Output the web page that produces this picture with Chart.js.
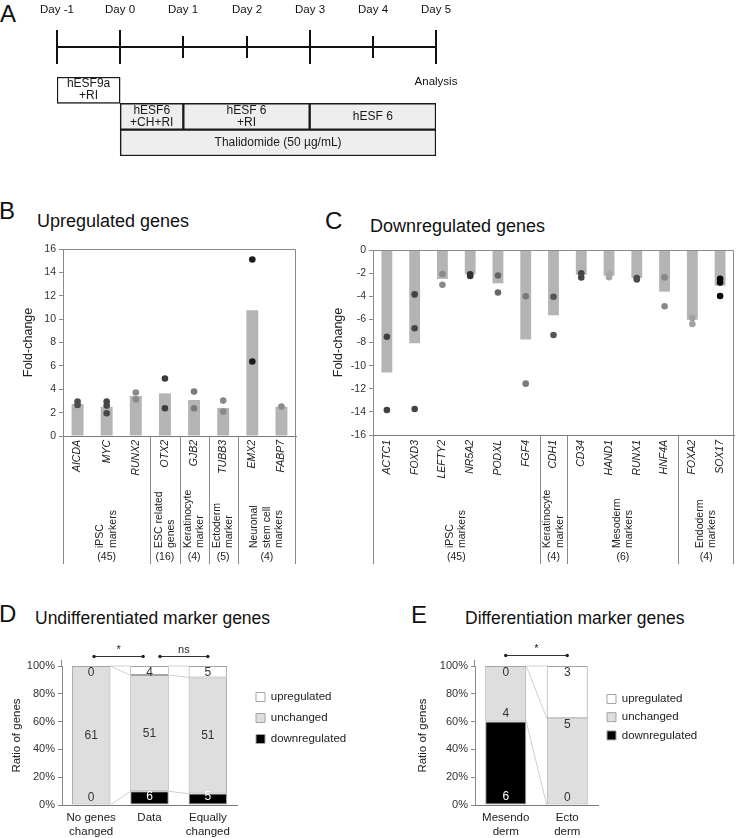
<!DOCTYPE html>
<html>
<head>
<meta charset="utf-8">
<title>Thalidomide exposure: gene expression changes</title>
<script src="https://cdn.jsdelivr.net/npm/chart.js"></script>
<style>
  html, body { margin:0; padding:0; background:#fff; }
  body { position:relative; width:738px; height:838px; overflow:hidden; font-family:'Liberation Sans', Arial, sans-serif; color:#111; }
  canvas { position:absolute; display:block; }
  .t { position:absolute; line-height:1; white-space:nowrap; margin:0; font-weight:normal; }
  .letter { font-size:24px; }
  .title { font-size:18px; }
</style>
</head>
<body>
<div class="t letter" style="left:0px;top:2px">A</div>
<div class="t letter" style="left:-1px;top:199px">B</div>
<div class="t title" style="left:37px;top:212px">Upregulated genes</div>
<div class="t letter" style="left:325px;top:209px">C</div>
<div class="t title" style="left:370px;top:217px">Downregulated genes</div>
<div class="t letter" style="left:-1px;top:602px">D</div>
<div class="t title" style="left:35px;top:610px;font-size:17.5px">Undifferentiated marker genes</div>
<div class="t letter" style="left:411px;top:603px">E</div>
<div class="t title" style="left:465px;top:610px;font-size:17.5px">Differentiation marker genes</div>

<canvas id="chartA" width="470" height="170" style="left:0;top:0"></canvas>
<canvas id="chartB" width="310" height="390" style="left:0;top:190px"></canvas>
<canvas id="chartC" width="428" height="390" style="left:310px;top:190px"></canvas>
<canvas id="chartD" width="370" height="258" style="left:0;top:580px"></canvas>
<canvas id="chartE" width="368" height="258" style="left:370px;top:580px"></canvas>

<script>
// ================= DATA =================
// Panel A: protocol timeline
const dayValues = [-1, 0, 1, 2, 3, 4, 5];
const dayLabels = ['Day -1', 'Day 0', 'Day 1', 'Day 2', 'Day 3', 'Day 4', 'Day 5'];
const majorDays = [-1, 0, 3, 5];
const stepRows = ['preculture', 'medium', 'drug'];
const stepNames = [['hESF9a', '+RI'], ['hESF6', '+CH+RI'], ['hESF 6', '+RI'], ['hESF 6'], ['Thalidomide (50 µg/mL)']];
const stepStart = [-1, 0, 1, 3, 0];
const stepEnd = [0, 1, 3, 5, 5];
const stepRow = ['preculture', 'medium', 'medium', 'medium', 'drug'];
const analysisDay = 5;
const analysisLabel = 'Analysis';

// Panel B: upregulated genes
const upGenes = ['AICDA', 'MYC', 'RUNX2', 'OTX2', 'GJB2', 'TUBB3', 'EMX2', 'FABP7'];
const upMean = [2.75, 2.5, 3.42, 3.65, 3.08, 2.4, 10.75, 2.5];
const upPointGene = ['AICDA', 'AICDA', 'MYC', 'MYC', 'MYC', 'RUNX2', 'RUNX2', 'OTX2', 'OTX2', 'GJB2', 'GJB2', 'TUBB3', 'TUBB3', 'EMX2', 'EMX2', 'FABP7'];
const upPointValue = [2.95, 2.65, 2.95, 2.6, 1.95, 3.72, 3.12, 4.92, 2.38, 3.8, 2.38, 3.03, 2.1, 15.1, 6.38, 2.52];
const upGroupNames = [['iPSC', 'markers'], ['ESC related', 'genes'], ['Keratinocyte', 'marker'], ['Ectoderm', 'marker'], ['Neuronal', 'stem cell', 'markers']];
const upGroupCounts = ['(45)', '(16)', '(4)', '(5)', '(4)'];
const upGroupSizes = [3, 1, 1, 1, 2];

// Panel C: downregulated genes
const downGenes = ['ACTC1', 'FOXD3', 'LEFTY2', 'NR5A2', 'PODXL', 'FGF4', 'CDH1', 'CD34', 'HAND1', 'RUNX1', 'HNF4A', 'FOXA2', 'SOX17'];
const downMean = [-10.6, -8.07, -2.5, -2.1, -2.88, -7.75, -5.65, -2.14, -2.22, -2.42, -3.6, -6.03, -3.08];
const downPointGene = ['ACTC1', 'ACTC1', 'FOXD3', 'FOXD3', 'FOXD3', 'LEFTY2', 'LEFTY2', 'NR5A2', 'NR5A2', 'PODXL', 'PODXL', 'FGF4', 'FGF4', 'CDH1', 'CDH1', 'CD34', 'CD34', 'HAND1', 'HAND1', 'RUNX1', 'RUNX1', 'HNF4A', 'HNF4A', 'FOXA2', 'FOXA2', 'SOX17', 'SOX17', 'SOX17'];
const downPointValue = [-7.5, -13.84, -3.84, -6.77, -13.75, -2.08, -3.0, -2.1, -2.25, -2.2, -3.67, -4.0, -11.56, -4.04, -7.35, -2.02, -2.38, -2.08, -2.35, -2.42, -2.55, -2.37, -4.87, -5.88, -6.4, -2.5, -2.82, -3.98];
const downGroupNames = [['iPSC', 'markers'], ['Keratinocyte', 'marker'], ['Mesoderm', 'markers'], ['Endoderm', 'markers']];
const downGroupCounts = ['(45)', '(4)', '(6)', '(4)'];
const downGroupSizes = [6, 1, 4, 2];

// Panels D/E: number of genes per category
const seriesNames = ['downregulated', 'unchanged', 'upregulated'];
const undiffCats = [['No genes', 'changed'], ['Data'], ['Equally', 'changed']];
const undiffDown = [0, 6, 5];
const undiffUnchanged = [61, 51, 51];
const undiffUp = [0, 4, 5];
const undiffSignif = ['*', 'ns'];
const diffCats = [['Mesendo', 'derm'], ['Ecto', 'derm']];
const diffDown = [6, 0];
const diffUnchanged = [4, 5];
const diffUp = [0, 3];
const diffSignif = ['*'];

// ================= STYLE =================
const FONT = "'Liberation Sans', Arial, Helvetica, sans-serif";
Chart.defaults.font.family = FONT;
Chart.defaults.color = '#222';
Chart.defaults.animation = false;
Chart.defaults.events = [];
Chart.defaults.plugins.tooltip.enabled = false;
Chart.defaults.plugins.legend.display = false;

const upDotColor = { AICDA: '#4d4d4d', MYC: '#464646', RUNX2: '#8a8a8a', OTX2: '#3d3d3d', GJB2: '#7a7a7a', TUBB3: '#888888', EMX2: '#1c1c1c', FABP7: '#8a8a8a' };
const downDotColor = { ACTC1: '#404040', FOXD3: '#444444', LEFTY2: '#8a8a8a', NR5A2: '#333333', PODXL: '#666666', FGF4: '#7a7a7a', CDH1: '#555555', CD34: '#444444', HAND1: '#a8a8a8', RUNX1: '#4d4d4d', HNF4A: '#888888', FOXA2: '#a2a2a2', SOX17: '#050505' };

// ================= PANEL A =================
const timelinePlugin = {
  id: 'timeline',
  afterDraw(chart, args, o) {
    const ctx = chart.ctx, xs = chart.scales.x;
    ctx.save();
    ctx.strokeStyle = '#111';
    ctx.lineWidth = 2;
    ctx.beginPath();
    ctx.moveTo(xs.getPixelForValue(dayValues[0]), o.lineY);
    ctx.lineTo(xs.getPixelForValue(dayValues[dayValues.length - 1]), o.lineY);
    ctx.stroke();
    ctx.fillStyle = '#111';
    ctx.textAlign = 'center';
    ctx.textBaseline = 'middle';
    ctx.font = '11.5px ' + FONT;
    dayValues.forEach((d, i) => {
      const px = Math.round(xs.getPixelForValue(d));
      const h = majorDays.includes(d) ? o.majorTick : o.minorTick;
      ctx.beginPath();
      ctx.moveTo(px, o.lineY - h);
      ctx.lineTo(px, o.lineY + h);
      ctx.stroke();
      ctx.fillText(dayLabels[i], px, o.labelY);
    });
    ctx.fillText(analysisLabel, xs.getPixelForValue(analysisDay), o.analysisY);
    ctx.font = '12px ' + FONT;
    ctx.fillStyle = '#1a1a1a';
    const meta = chart.getDatasetMeta(0);
    meta.data.forEach((bar, i) => {
      const lines = stepNames[i];
      const cx = (bar.x + bar.base) / 2;
      lines.forEach((t, k) => ctx.fillText(t, cx, bar.y + (k - (lines.length - 1) / 2) * o.lineGap));
    });
    ctx.restore();
  }
};

new Chart(document.getElementById('chartA'), {
  type: 'bar',
  data: {
    labels: stepRows,
    datasets: [{
      label: 'protocol',
      data: stepNames.map((_, i) => ({ y: stepRow[i], x: [stepStart[i], stepEnd[i]] })),
      backgroundColor: stepRow.map(r => r === 'preculture' ? '#ffffff' : '#eeeeee'),
      borderColor: '#1a1a1a',
      borderWidth: 1.5,
      borderSkipped: false,
      barPercentage: 1,
      categoryPercentage: 1
    }]
  },
  options: {
    responsive: false,
    devicePixelRatio: 1,
    indexAxis: 'y',
    layout: { padding: { left: 57, right: 34, top: 77, bottom: 14 } },
    scales: {
      x: { type: 'linear', min: -1, max: 5, display: false },
      y: { type: 'category', display: false }
    },
    plugins: { timeline: { lineY: 47, majorTick: 17, minorTick: 11, labelY: 10, analysisY: 82, lineGap: 12 } }
  },
  plugins: [timelinePlugin]
});

// ================= PANELS B / C =================
const groupPlugin = {
  id: 'groups',
  afterDraw(chart, args, o) {
    const ctx = chart.ctx, xs = chart.scales.x, ca = chart.chartArea;
    ctx.save();
    ctx.strokeStyle = '#8a8a8a';
    ctx.lineWidth = 1;
    ctx.beginPath();
    ctx.moveTo(ca.left, Math.round(ca.top) + 0.5);
    ctx.lineTo(Math.round(ca.right) - 0.5, Math.round(ca.top) + 0.5);
    ctx.lineTo(Math.round(ca.right) - 0.5, ca.bottom);
    ctx.stroke();
    const bounds = [-0.5];
    let acc = 0;
    o.sizes.forEach(s => { acc += s; bounds.push(acc - 0.5); });
    bounds.forEach((b, j) => {
      let px = Math.round(xs.getPixelForValue(b)) + 0.5;
      if (j === bounds.length - 1) px = Math.round(ca.right) - 0.5;
      ctx.beginPath();
      ctx.moveTo(px, ca.bottom);
      ctx.lineTo(px, o.sepBottom);
      ctx.stroke();
    });
    ctx.fillStyle = '#222';
    ctx.font = '10.5px ' + FONT;
    let start = 0;
    o.sizes.forEach((s, g) => {
      const cx = (xs.getPixelForValue(start - 0.5) + xs.getPixelForValue(start + s - 0.5)) / 2;
      const lines = o.names[g];
      lines.forEach((t, k) => {
        ctx.save();
        ctx.translate(cx + (k - (lines.length - 1) / 2) * o.lineGap, o.nameBase);
        ctx.rotate(-Math.PI / 2);
        ctx.textAlign = 'left';
        ctx.textBaseline = 'middle';
        ctx.fillText(t, 0, 0);
        ctx.restore();
      });
      ctx.textAlign = 'center';
      ctx.textBaseline = 'middle';
      ctx.fillText(o.counts[g], cx, o.countY);
      start += s;
    });
    ctx.restore();
  }
};

function foldChart(id, genes, means, ptGene, ptValue, dotColor, names, counts, sizes, yMin, yMax, geom) {
  return new Chart(document.getElementById(id), {
    type: 'bar',
    data: {
      labels: genes,
      datasets: [
        {
          type: 'line', label: 'replicates',
          data: ptGene.map((g, i) => ({ x: g, y: ptValue[i] })),
          showLine: false, pointRadius: 3.3, pointBorderWidth: 0,
          pointBackgroundColor: ptGene.map(g => dotColor[g]),
          order: 0
        },
        {
          type: 'bar', label: 'mean', data: means,
          backgroundColor: '#b4b4b4', borderWidth: 0,
          barPercentage: geom.barPct, categoryPercentage: 1,
          order: 1
        }
      ]
    },
    options: {
      responsive: false,
      devicePixelRatio: 1,
      layout: { padding: { top: geom.top, right: geom.right, left: 0, bottom: 0 } },
      scales: {
        x: {
          type: 'category', offset: true,
          grid: { display: false, drawTicks: false },
          border: { display: true, color: '#7a7a7a', width: 1 },
          ticks: { autoSkip: false, minRotation: 90, maxRotation: 90, padding: geom.labelPad, color: '#222', font: { size: 10.5, style: 'italic' } },
          afterFit: s => { s.height = geom.xHeight; }
        },
        y: {
          type: 'linear', min: yMin, max: yMax,
          ticks: { stepSize: 2, padding: 3, color: '#333', font: { size: 10.5 } },
          grid: { drawOnChartArea: false, drawTicks: true, tickLength: 4, color: '#8a8a8a' },
          border: { display: true, color: '#8a8a8a', width: 1 },
          title: { display: true, text: 'Fold-change', color: '#222', font: { size: 12.5 }, padding: { top: 20.8, bottom: 0 } },
          afterFit: s => { s.width = geom.yWidth; }
        }
      },
      plugins: {
        groups: { names: names, counts: counts, sizes: sizes, sepBottom: 374, nameBase: 358, countY: 367, lineGap: 12.5 }
      }
    },
    plugins: [groupPlugin]
  });
}

foldChart('chartB', upGenes, upMean, upPointGene, upPointValue, upDotColor,
  upGroupNames, upGroupCounts, upGroupSizes, 0, 16,
  { top: 59, right: 14, yWidth: 63, xHeight: 144, barPct: 0.41, labelPad: 4 });

foldChart('chartC', downGenes, downMean, downPointGene, downPointValue, downDotColor,
  downGroupNames, downGroupCounts, downGroupSizes, -16, 0,
  { top: 60, right: 1, yWidth: 63, xHeight: 145, barPct: 0.39, labelPad: 5 });

// ================= PANELS D / E =================
const ratioPlugin = {
  id: 'ratioExtras',
  afterLayout(chart, args, o) {
    const lg = chart.legend;
    if (!lg) return;
    const pad = o.legendPad;
    const dx = o.legendX - (lg.left + pad);
    lg.left += dx; lg.right += dx;
    const dy = o.legendY - (lg.top + pad + o.legendItemH / 2);
    lg.top += dy; lg.bottom += dy;
  },
  afterDatasetsDraw(chart, args, o) {
    const ctx = chart.ctx, ca = chart.chartArea;
    ctx.save();
    // y axis line continues slightly above the 100% tick
    ctx.strokeStyle = '#8a8a8a';
    ctx.lineWidth = 1;
    ctx.beginPath();
    ctx.moveTo(Math.round(ca.left) - 0.5, ca.top - o.axisOvershoot);
    ctx.lineTo(Math.round(ca.left) - 0.5, ca.top);
    ctx.stroke();
    ctx.strokeStyle = '#cfcfcf';
    chart.data.datasets.forEach((ds, d) => {
      const meta = chart.getDatasetMeta(d);
      for (let i = 0; i < meta.data.length - 1; i++) {
        const a = meta.data[i], b = meta.data[i + 1];
        ctx.beginPath();
        ctx.moveTo(a.x + a.width / 2, a.y);
        ctx.lineTo(b.x - b.width / 2, b.y);
        ctx.stroke();
      }
    });
    ctx.font = '12px ' + FONT;
    ctx.textAlign = 'center';
    ctx.textBaseline = 'middle';
    chart.data.datasets.forEach((ds, d) => {
      const meta = chart.getDatasetMeta(d);
      meta.data.forEach((el, i) => {
        const top = Math.min(el.y, el.base), bot = Math.max(el.y, el.base);
        const anchor = o.anchors[d][i];
        const y = anchor === 'top' ? top + 7 : anchor === 'bottom' ? bot - 7.5 : (top + bot) / 2;
        const n = o.counts[d][i];
        ctx.fillStyle = (d === 0 && n > 0) ? '#ffffff' : '#333333';
        ctx.fillText(String(n), el.x, y);
      });
    });
    ctx.restore();
  },
  afterDraw(chart, args, o) {
    const ctx = chart.ctx, xs = chart.scales.x;
    ctx.save();
    ctx.strokeStyle = '#333';
    ctx.fillStyle = '#222';
    ctx.lineWidth = 1;
    ctx.font = '11px ' + FONT;
    ctx.textAlign = 'center';
    ctx.textBaseline = 'alphabetic';
    o.brackets.forEach((br, k) => {
      const x1 = xs.getPixelForValue(br[0]), x2 = xs.getPixelForValue(br[1]);
      const y = o.bracketY + 0.5;
      ctx.beginPath(); ctx.moveTo(x1, y); ctx.lineTo(x2, y); ctx.stroke();
      [x1, x2].forEach(x => { ctx.beginPath(); ctx.arc(x, y, 1.7, 0, Math.PI * 2); ctx.fill(); });
      ctx.fillText(o.labels[k], (x1 + x2) / 2, y - 4);
    });
    ctx.restore();
  }
};

function ratioChart(id, cats, down, unch, up, signif, geom) {
  const totals = cats.map((_, i) => down[i] + unch[i] + up[i]);
  const share = arr => arr.map((v, i) => v / totals[i]);
  const common = { borderColor: '#a3a3a3', borderWidth: 1, borderSkipped: false, barPercentage: geom.barPct, categoryPercentage: 1 };
  return new Chart(document.getElementById(id), {
    type: 'bar',
    data: {
      labels: cats,
      datasets: [
        Object.assign({ label: seriesNames[0], data: share(down), backgroundColor: '#000000' }, common),
        Object.assign({ label: seriesNames[1], data: share(unch), backgroundColor: '#dedede' }, common),
        Object.assign({ label: seriesNames[2], data: share(up), backgroundColor: '#ffffff' }, common)
      ]
    },
    options: {
      responsive: false,
      devicePixelRatio: 1,
      layout: { padding: { top: 86, left: geom.left, right: geom.right, bottom: 0 } },
      scales: {
        x: {
          stacked: true,
          grid: { display: false, drawTicks: false },
          border: { display: true, color: '#7a7a7a', width: 1 },
          ticks: { padding: 6, color: '#222', font: { size: 11.5 } },
          afterFit: s => { s.height = 33; }
        },
        y: {
          stacked: true, min: 0, max: 1,
          ticks: { stepSize: 0.2, padding: 3, color: '#333', font: { size: 11 }, callback: v => Math.round(v * 100) + '%' },
          grid: { drawOnChartArea: false, drawTicks: true, tickLength: 4, color: '#8a8a8a' },
          border: { display: true, color: '#8a8a8a', width: 1 },
          title: { display: true, text: 'Ratio of genes', color: '#222', font: { size: 11.5 }, padding: { top: geom.titlePad, bottom: 0 } },
          afterFit: s => { s.width = geom.yWidth; }
        }
      },
      plugins: {
        legend: {
          display: true, position: 'chartArea', align: 'start', reverse: true,
          labels: { boxWidth: 9, boxHeight: 9, padding: geom.legendPad, color: '#222', font: { size: 11.5 } }
        },
        ratioExtras: {
          counts: [down, unch, up], anchors: geom.anchors, brackets: geom.brackets, labels: signif,
          bracketY: geom.bracketY, legendX: geom.legendX, legendY: geom.legendY, legendPad: geom.legendPad, legendItemH: 11.5,
          axisOvershoot: 6
        }
      }
    },
    plugins: [ratioPlugin]
  });
}

ratioChart('chartD', undiffCats, undiffDown, undiffUnchanged, undiffUp, undiffSignif, {
  left: 0, right: 133, yWidth: 62, barPct: 0.66, titlePad: 10,
  legendPad: 9.5, legendX: 256, legendY: 117,
  bracketY: 76, brackets: [[0.05, 0.89], [1.18, 2.0]],
  anchors: [['bottom', 'bottom', 'bottom'], ['center', 'center', 'center'], ['top', 'top', 'top']]
});

ratioChart('chartE', diffCats, diffDown, diffUnchanged, diffUp, diffSignif, {
  left: 40, right: 140, yWidth: 65, barPct: 0.667, titlePad: 6,
  legendPad: 6.7, legendX: 237, legendY: 119,
  bracketY: 75, brackets: [[0, 1]],
  anchors: [['bottom', 'bottom'], ['bottom', 'top'], ['top', 'top']]
});
</script>
</body>
</html>
